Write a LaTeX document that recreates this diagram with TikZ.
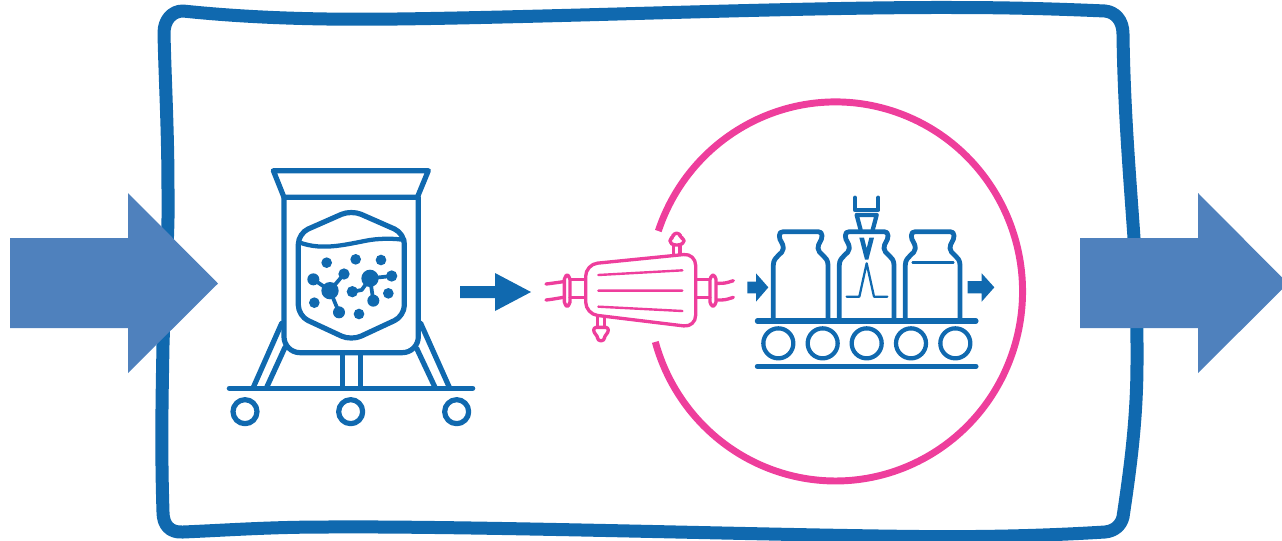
\documentclass[tikz,border=0pt]{standalone}
\definecolor{dblue}{HTML}{1069AF}
\definecolor{lblue}{HTML}{4F81BD}
\definecolor{mpink}{HTML}{EE3E9C}
\tikzset{
  frameline/.style={draw=dblue,line width=9.75pt,line join=round},
  bigarrow/.style={fill=lblue,draw=none},
  ico/.style={draw=dblue,line width=3.9pt,line cap=round,line join=round},
  icothin/.style={draw=dblue,line width=2.8pt,line cap=round,line join=round},
  icofill/.style={fill=dblue,draw=none},
  pk/.style={draw=mpink,line width=2.5pt,line cap=round,line join=round},
  pkthin/.style={draw=mpink,line width=1.8pt,line cap=round},
  ring/.style={draw=mpink,line width=5.2pt}
}
\begin{document}
\begin{tikzpicture}[x=0.75pt,y=-0.75pt]
\useasboundingbox (0,0) rectangle (1282,540);
\clip (0,0) rectangle (1282,540);
% frame
\draw[frameline] (183,11) .. controls (250,18) and (320,20) .. (397,19)
 .. controls (560,17) and (800,7) .. (953,7.5)
 .. controls (1010,7.5) and (1060,9) .. (1105,11)
 .. controls (1115,12) and (1123,20) .. (1123,34)
 .. controls (1124,110) and (1130,180) .. (1134,238)
 .. controls (1137,290) and (1137,320) .. (1137,362)
 .. controls (1137,420) and (1130,470) .. (1123,517)
 .. controls (1121,525) and (1115,531) .. (1105,532)
 .. controls (1040,536) and (980,537) .. (920,536.5)
 .. controls (760,535) and (480,526) .. (327,527)
 .. controls (270,527) and (230,530) .. (183,532)
 .. controls (170,533) and (163,525) .. (163,512)
 .. controls (161,450) and (162,400) .. (163,345)
 .. controls (165,280) and (169,230) .. (168,190)
 .. controls (168,130) and (165,80) .. (164,33)
 .. controls (164,20) and (172,11) .. (183,11) -- cycle;
% pink ring
\draw[ring] (658.3,231) arc[start angle=198.6,end angle=524.55,x radius=187,y radius=189.5];
% big arrows
\fill[bigarrow] (10,238)--(128,238)--(128,193)--(218,283.5)--(128,373)--(128,328)--(10,328)--cycle;
\fill[bigarrow] (1080,238)--(1198,238)--(1198,193)--(1288,283.5)--(1198,373)--(1198,328)--(1080,328)--cycle;
% middle arrow
\fill[icofill] (460,286)--(495,286)--(495,273)--(531,292)--(495,311)--(495,298)--(460,298)--cycle;
% reactor
\begin{scope}[shift={(210,150)},x=0.25pt,y=-0.25pt]
 \draw[ico] (190,62)--(655,62)--(622,142)--(222,142)--cycle;
 \draw[ico,rounded corners=12pt] (222,142)--(222,608)--(625,608)--(625,142);
 \draw[ico,rounded corners=8pt] (424,180)--(583,250)--(583,498)--(424,572)--(265,498)--(265,250)--cycle;
 \draw[icothin,line width=3.2pt] (268,277) .. controls (340,305) and (420,280) .. (480,270) .. controls (520,264) and (560,266) .. (583,270);
 \foreach \p in {(350,338),(437,328),(513,330),(313,458),(447,492),(535,430)} \fill[dblue] \p circle[radius=16];
 \draw[icothin] (310,388)--(360,422)--(402,372) (360,422)--(387,487);
 \fill[dblue] (360,422) circle[radius=26] (310,388) circle[radius=18] (402,372) circle[radius=17] (387,487) circle[radius=18];
 \draw[icothin] (545,378)--(480,385)--(455,420)--(427,425) (480,385)--(490,452);
 \fill[dblue] (480,385) circle[radius=26] (545,378) circle[radius=17] (427,425) circle[radius=17] (490,452) circle[radius=18];
 \draw[ico] (215,520)--(130,712) (225,592)--(170,712);
 \draw[ico] (632,520)--(718,712) (620,595)--(675,712);
 \draw[ico] (58,715)--(788,715);
 \draw[ico] (397,608)--(397,715) (452,608)--(452,715);
 \foreach \u in {105,422,740} \draw[ico] (\u,785) circle[radius=36];
\end{scope}
% filter
\begin{scope}[shift={(535,210)},x=0.25pt,y=-0.25pt]
 \draw[pk,rounded corners=9pt] (152,163)--(482,130)--(482,352)--(152,312)--cycle;
 \draw[pkthin] (190,195)--(442,181) (190,242)--(442,242) (190,290)--(442,303);
 \draw[pk] (105,208)--(150,208) (105,262)--(150,262) (482,208)--(525,208) (482,262)--(525,262);
 \draw[pk,rounded corners=3pt] (88,196)--(105,196)--(105,288)--(88,288)--cycle;
 \draw[pk,rounded corners=3pt] (525,196)--(543,196)--(543,288)--(525,288)--cycle;
 \draw[pk] (33,222) .. controls (50,220) .. (85,215) (33,270) .. controls (50,268) .. (85,262);
 \draw[pk] (546,220) .. controls (570,220) .. (595,212) (546,270) .. controls (570,270) .. (595,262);
 \draw[pk] (415,132)--(415,105) (435,130)--(435,105) (188,318)--(188,350) (208,320)--(208,350);
 \draw[pk,rounded corners=2pt] (415,70)--(435,70)--(435,82)--(447,86)--(447,98)--(435,105)--(415,105)--(405,98)--(405,86)--(415,82)--cycle;
 \draw[pk,rounded corners=2pt] (176,352)--(220,352)--(220,368)--(208,378)--(208,392)--(188,392)--(188,378)--(176,368)--cycle;
\end{scope}
% vials
\begin{scope}[shift={(740,185)},x=0.25pt,y=-0.25pt]
 \foreach \c in {182,380,578}{
  \begin{scope}[xshift=\c*0.25pt]
   \draw[ico,line width=3.6pt] (-82,405)--(-82,240) .. controls (-82,212) and (-52,208) .. (-52,190) .. controls (-52,172) and (-64,170) .. (-64,152) .. controls (-64,144) and (-60,140) .. (-52,140) -- (52,140) .. controls (60,140) and (64,144) .. (64,152) .. controls (64,170) and (52,172) .. (52,190) .. controls (52,208) and (82,212) .. (82,240) -- (82,405);
  \end{scope}}
 \draw[icothin,line width=2pt] (518,232)--(640,232);
 \draw[ico,line width=3.8pt] (52,408)--(708,408) (52,544)--(708,544);
 \foreach \u in {115,248,380,513,646} \draw[ico,line width=3.2pt] (\u,475) circle[radius=45];
 \fill[icofill] (22,290)--(48,290)--(48,265)--(85,307)--(48,350)--(48,325)--(22,325)--cycle;
 \fill[icofill] (683,288)--(725,288)--(725,265)--(763,307)--(725,350)--(725,325)--(683,325)--cycle;
 \draw[ico,line width=3.2pt] (345,38)--(345,75)--(415,75)--(415,38);
 \draw[ico,line width=3.2pt] (350,90)--(362,135) (410,90)--(398,135) (350,90)--(410,90);
 \fill[dblue] (358,158)--(372,158)--(380,190)--(388,158)--(402,158)--(385,224)--(375,224)--cycle;
 \draw[icothin,line width=1.7pt] (320,335)--(358,335)--(380,235)--(402,335)--(442,335);
\end{scope}
\end{tikzpicture}
\end{document}
